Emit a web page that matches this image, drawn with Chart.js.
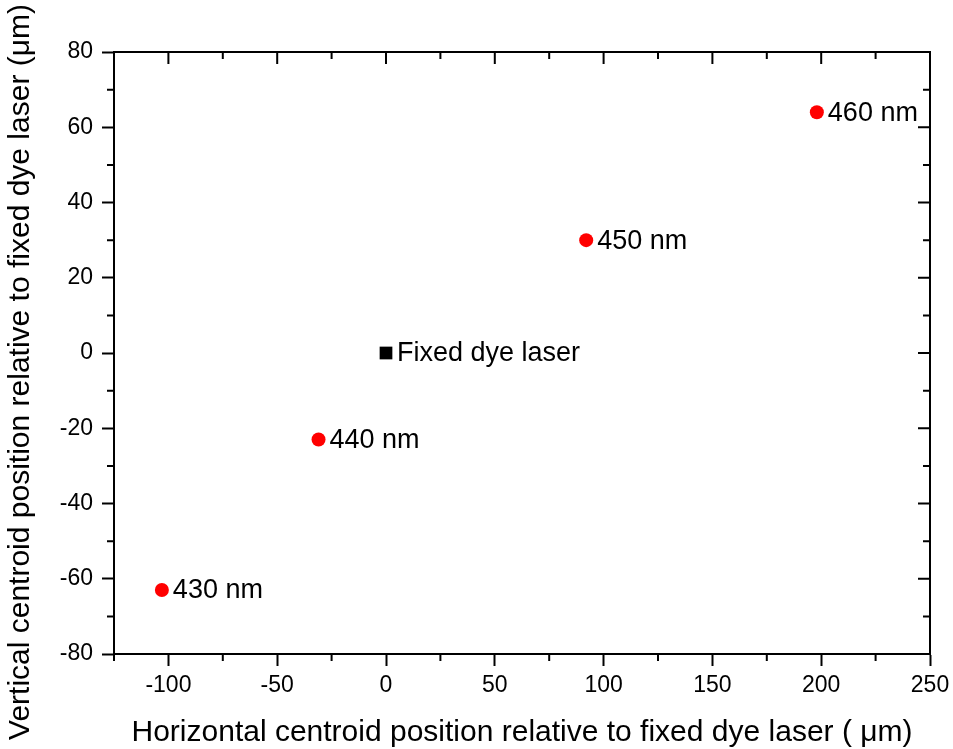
<!DOCTYPE html>
<html>
<head>
<meta charset="utf-8">
<script src="https://cdn.jsdelivr.net/npm/chart.js@4/dist/chart.umd.min.js"></script>
<style>
  html, body { margin: 0; padding: 0; background: #ffffff; }
  canvas { display: block; }
</style>
</head>
<body>
<canvas id="chart" width="953" height="749"></canvas>
<script>
// Tunable laser centroid offsets (µm) relative to the fixed dye laser
const laserLabels = ['430 nm', '440 nm', '450 nm', '460 nm'];
const laserX = [-103, -31, 92, 198];
const laserY = [-63, -23, 30, 64];

// Reference beam
const fixedLabels = ['Fixed dye laser'];
const fixedX = [0];
const fixedY = [0];

// Axis ranges and labelled ticks
const xRange = [-125, 250];
const yRange = [-80, 80];
const xTicks = [-100, -50, 0, 50, 100, 150, 200, 250];
const yTicks = [-80, -60, -40, -20, 0, 20, 40, 60, 80];

const xTitle = 'Horizontal centroid position relative to fixed dye laser ( \u03bcm)';
const yTitle = 'Vertical centroid position relative to fixed dye laser (\u03bcm)';

const FONT = "'Liberation Sans', Arial, Helvetica, sans-serif";
const MAJOR = 12, MINOR = 7, LINE = 2;

function toPoints(xs, ys) {
  return xs.map((x, i) => ({ x: x, y: ys[i] }));
}

// Minor ticks sit halfway between labelled ticks, plus the axis ends
function minorTicks(major, range) {
  const step = major[1] - major[0];
  const out = [];
  for (let v = major[0] - step / 2; v <= range[1] + 1e-9; v += step) {
    if (v >= range[0] - 1e-9) out.push(v);
  }
  return out;
}

const framePlugin = {
  id: 'frame',
  afterDraw(chart) {
    const { ctx, chartArea: a, scales } = chart;
    const xs = scales.x, ys = scales.y;
    ctx.save();
    ctx.strokeStyle = '#000';
    ctx.lineWidth = LINE;
    ctx.lineCap = 'butt';
    // top and right frame lines
    ctx.beginPath();
    ctx.moveTo(a.left - 1, a.top);
    ctx.lineTo(a.right, a.top);
    ctx.lineTo(a.right, a.bottom + 1);
    ctx.stroke();

    const xMajor = xTicks.map(v => xs.getPixelForValue(v));
    const yMajor = yTicks.map(v => ys.getPixelForValue(v));
    const xMinor = minorTicks(xTicks, xRange).map(v => xs.getPixelForValue(v));
    const yMinor = minorTicks(yTicks, yRange).map(v => ys.getPixelForValue(v));

    ctx.beginPath();
    // bottom minor (outward), top major/minor (inward)
    xMinor.forEach(px => {
      ctx.moveTo(px, a.bottom); ctx.lineTo(px, a.bottom + MINOR);
      ctx.moveTo(px, a.top); ctx.lineTo(px, a.top + MINOR);
    });
    xMajor.forEach(px => {
      ctx.moveTo(px, a.top); ctx.lineTo(px, a.top + MAJOR);
    });
    // left minor (outward), right major/minor (inward)
    yMinor.forEach(py => {
      ctx.moveTo(a.left, py); ctx.lineTo(a.left - MINOR, py);
      ctx.moveTo(a.right, py); ctx.lineTo(a.right - MINOR, py);
    });
    yMajor.forEach(py => {
      ctx.moveTo(a.right, py); ctx.lineTo(a.right - MAJOR, py);
    });
    ctx.stroke();

    // axis titles
    ctx.fillStyle = '#000';
    ctx.font = '30px ' + FONT;
    ctx.textAlign = 'center';
    ctx.textBaseline = 'middle';
    ctx.fillText(xTitle, (a.left + a.right) / 2, 733);
    ctx.save();
    ctx.translate(21, 372);
    ctx.rotate(-Math.PI / 2);
    ctx.fillText(yTitle, 0, 0);
    ctx.restore();

    // point annotations
    ctx.font = '27px ' + FONT;
    ctx.textAlign = 'left';
    ctx.textBaseline = 'middle';
    chart.data.datasets.forEach((ds, di) => {
      const meta = chart.getDatasetMeta(di);
      meta.data.forEach((el, i) => {
        ctx.fillText(ds.pointLabels[i], el.x + 11, el.y + 1);
      });
    });
    ctx.restore();
  }
};

new Chart(document.getElementById('chart'), {
  type: 'scatter',
  data: {
    datasets: [
      {
        label: 'Fixed dye laser',
        data: toPoints(fixedX, fixedY),
        pointLabels: fixedLabels,
        pointStyle: 'rect',
        pointRadius: 9,
        backgroundColor: '#000000',
        borderWidth: 0
      },
      {
        label: 'Tunable laser',
        data: toPoints(laserX, laserY),
        pointLabels: laserLabels,
        pointStyle: 'circle',
        pointRadius: 7,
        backgroundColor: '#ff0000',
        borderWidth: 0
      }
    ]
  },
  options: {
    responsive: false,
    animation: false,
    devicePixelRatio: 1,
    events: [],
    layout: { padding: { top: 52, right: 23, left: 0, bottom: 0 } },
    plugins: {
      legend: { display: false },
      tooltip: { enabled: false }
    },
    scales: {
      x: {
        type: 'linear',
        min: xRange[0],
        max: xRange[1],
        afterBuildTicks: s => { s.ticks = xTicks.map(v => ({ value: v })); },
        afterFit: s => { s.height = 95; s.paddingLeft = 0; s.paddingRight = 0; },
        border: { display: true, color: '#000', width: LINE },
        grid: {
          display: true, drawOnChartArea: false, drawTicks: true,
          tickLength: MAJOR, tickWidth: LINE, tickColor: '#000'
        },
        ticks: {
          color: '#000',
          font: { family: FONT, size: 23 },
          padding: 6,
          maxRotation: 0,
          autoSkip: false
        }
      },
      y: {
        type: 'linear',
        min: yRange[0],
        max: yRange[1],
        afterBuildTicks: s => { s.ticks = yTicks.map(v => ({ value: v })); },
        afterFit: s => { s.width = 114; s.paddingTop = 0; s.paddingBottom = 0; },
        border: { display: true, color: '#000', width: LINE },
        grid: {
          display: true, drawOnChartArea: false, drawTicks: true,
          tickLength: MAJOR, tickWidth: LINE, tickColor: '#000'
        },
        ticks: {
          color: '#000',
          font: { family: FONT, size: 23 },
          padding: 9,
          autoSkip: false
        }
      }
    }
  },
  plugins: [framePlugin]
});
</script>
</body>
</html>
